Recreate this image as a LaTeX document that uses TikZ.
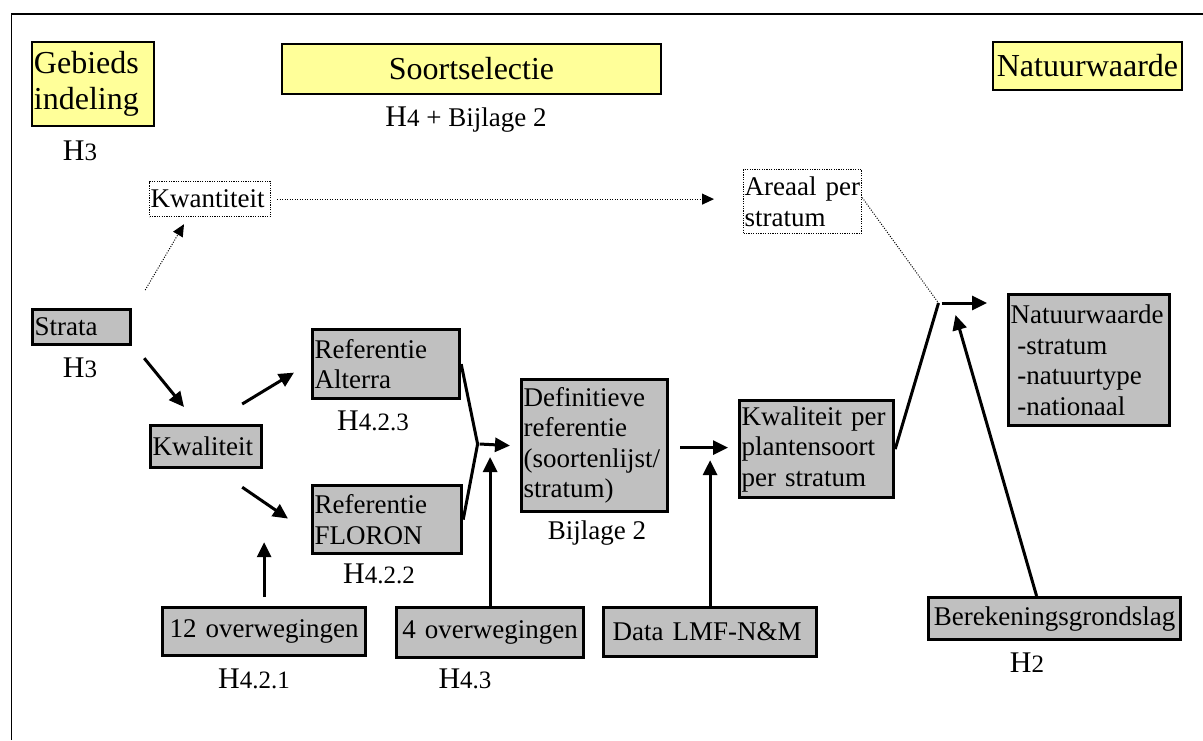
\documentclass[tikz,border=0pt]{standalone}
\usepackage{fontspec}
\setmainfont{Liberation Serif}
\usetikzlibrary{arrows.meta,calc}

\definecolor{titelgeel}{RGB}{255,255,153}
\definecolor{vakgrijs}{RGB}{192,192,192}
\newcommand{\hkop}{{\fontsize{30}{34}\selectfont H}}
\newcommand{\hnum}[1]{{\fontsize{25}{29}\selectfont #1}}

\begin{document}
\begin{tikzpicture}[x=1pt, y=-1pt,
		titel/.style={draw, line width=2pt, fill=titelgeel, anchor=north west, inner xsep=2pt, inner ysep=0pt, font=\fontsize{32}{36}\selectfont},
		vak/.style={draw, line width=3.2pt, fill=vakgrijs, anchor=north west, inner xsep=2pt, inner ysep=0pt, font=\fontsize{27}{30.5}\selectfont},
		stippelvak/.style={draw, line width=1.2pt, dash pattern=on 1.2pt off 1.2pt, anchor=north west, inner xsep=1pt, inner ysep=0pt, font=\fontsize{27}{31}\selectfont},
		hoofdstuk/.style={anchor=base, font=\fontsize{27}{30}\selectfont},
		pijl/.style={line width=3pt, -{Triangle[length=15pt,width=14pt]}},
		lijn/.style={line width=3pt},
		stippelpijl/.style={line width=1pt, dash pattern=on 1pt off 1.5pt, -{Triangle[length=12pt,width=11pt]}},
		stippellijn/.style={line width=1pt, dash pattern=on 1pt off 1.5pt}]
		
		\useasboundingbox (0,0) rectangle (1203,740);
		
		% Draw the frame
		\draw[line width=1.3pt] (11.5,740) -- (11.5,14) -- (1203,14);
		
		% Draw the title boxes
		\node[titel, text width=118pt, minimum height=84pt, align=left] (gebied) at (31,41) {Gebieds\\indeling};
		\node[titel, text width=375pt, minimum height=50pt, align=center] (soort) at (281,43) {Soortselectie};
		\node[titel, text width=185pt, minimum height=48pt, align=center] (natuur) at (992,41) {Natuurwaarde};
		
		% Draw the dotted boxes
		\node[stippelvak, text width=119pt, minimum height=35pt, align=left] (kwantiteit) at (149,181) {Kwantiteit};
		\node[stippelvak, text width=116pt, minimum height=64pt, align=left] (areaal) at (743,169) {Areaal per\\stratum};
		
		% Draw the grey boxes
		\node[vak, text width=94pt, minimum height=35pt, align=left] (strata) at (31,308) {Strata};
		\node[vak, text width=107pt, minimum height=42pt, align=left] (kwaliteit) at (149,424) {Kwaliteit};
		\node[vak, text width=143pt, minimum height=69pt, align=left] (alterra) at (311,328) {Referentie\\Alterra};
		\node[vak, text width=145pt, minimum height=68pt, align=left] (floron) at (311,484) {Referentie\\FLORON};
		\node[vak, text width=142pt, minimum height=132pt, align=left] (definitief) at (520,378) {Definitieve\\referentie\\(soortenlijst/\\stratum)};
		\node[vak, text width=150pt, minimum height=97pt, align=left] (kwalper) at (738,399) {Kwaliteit per\\plantensoort\\per stratum};
		\node[vak, text width=157pt, minimum height=131pt, align=left] (natuurgrijs) at (1007,293) {Natuurwaarde\\\hspace*{0.25em}-stratum\\\hspace*{0.25em}-natuurtype\\\hspace*{0.25em}-nationaal};
		\node[vak, text width=199pt, minimum height=48pt, align=center] (twaalf) at (161,606) {12 overwegingen};
		\node[vak, text width=183pt, minimum height=50pt, align=center] (vier) at (395,606) {4 overwegingen};
		\node[vak, text width=195pt, minimum height=49pt, inner xsep=9pt, align=left] (data) at (602,606) {Data LMF-N\&M};
		\node[vak, text width=248pt, minimum height=42pt, align=center] (bereken) at (927,596) {Berekeningsgrondslag};
		
		% Label the chapters
		\foreach \n/\x/\y/\c in {h3a/80/160/3, h3b/80/377/3, h423/373/430/4.2.3, h422/379/583/4.2.2, h421/254/688/4.2.1, h43/465/688/4.3, h2/1027/672/2}
		\node[hoofdstuk] (\n) at (\x,\y) {\hkop\hnum{\c}};
		\node[hoofdstuk] (h4b) at (466,126) {\hkop\hnum{4} + Bijlage 2};
		\node[hoofdstuk] (bijl) at (597,539) {Bijlage 2};
		
		% Junction points
		\coordinate (jd) at (477.6,444);
		\coordinate (jn) at (938.5,303);
		
		% Draw the dotted connections
		\draw[stippelpijl] ($(strata.north east)+(13,-18)$) -- ($(kwantiteit.south west)+(35,7)$);
		\draw[stippelpijl] ($(kwantiteit.east)+(6,0)$) -- ($(areaal.west |- kwantiteit.east)+(-29,0)$);
		\draw[stippellijn] ($(areaal.east)+(0,-4)$) -- (jn);
		
		% Draw the solid connections
		\draw[pijl] ($(strata.south east)+(12,12)$) -- ($(kwaliteit.north west)+(35,-17)$);
		\draw[pijl] ($(kwaliteit.north east)+(-21,-20)$) -- ($(alterra.west)+(-17,8.5)$);
		\draw[pijl] ($(kwaliteit.south east)+(-21,18)$) -- ($(floron.west)+(-23,-1)$);
		\draw[lijn] (alterra.east) -- (jd);
		\draw[lijn] (floron.east) -- (jd);
		\draw[pijl] ($(jd)+(2,0)$) -- ($(definitief.west)+(-10,0)$);
		\draw[pijl] (vier.north) -- ($(vier.north |- jd)+(0,13)$);
		\draw[pijl] ($(twaalf.north)+(0,-9)$) -- ($(twaalf.north |- floron.south)+(0,-13)$);
		\draw[pijl] ($(definitief.east)+(11,2)$) -- ($(kwalper.west)+(-10,-1.5)$);
		\draw[pijl] (data.north) -- ($(data.north |- kwalper.west)+(0,11)$);
		\draw[lijn] (kwalper.east) -- (jn);
		\draw[pijl] ($(jn)+(3,0)$) -- ($(natuurgrijs.west |- jn)+(-20,0)$);
		\draw[pijl] ($(bereken.north)+(-18,0)$) -- ($(jn)+(17,12)$);
		
	\end{tikzpicture}
\end{document}
